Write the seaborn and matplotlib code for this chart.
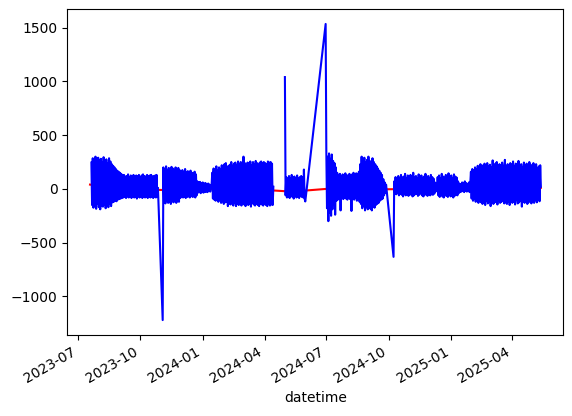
import pandas as pd
import matplotlib.pyplot as plt
import seaborn as sns

# blue series: daily highs/lows, one value per day per block
seg_a_start = '2023-07-21'
seg_a = [245, -150, 285, -175, 270, -160, 300, -185, 255, -140,
         290, -170, 265, -190, 280, -155, 250, -165, 295, -145,
         260, -180, 275, -150, 240, -170, 285, -135, 255, -160,
         230, -125,
         215, -120, 200, -110, 185, -115, 170, -100, 160, -95, 150, -90, 140, -85,
         125, -80, 130, -75, 115, -85, 120, -70, 135, -80,
         110, -75, 125, -85, 120, -70, 130, -80, 115, -75,
         125, -90, 120, -70, 130, -80, 110, -75, 125, -85,
         135, -70, 120, -80, 115, -75, 130, -85, 120, -70,
         125, -80, 130, -75, 115, -85, 120, -70, 125, -80,
         130, -75, 10]
dip_nov = ('2023-11-03', -1220)
seg_b_start = '2023-11-04'
seg_b = [200, -125, 185, -135, 210, -110, 175, -130, 195, -120,
         180, -140, 205, -115, 190, -125, 170, -105, 200, -130,
         185, -115, 195, -120, 175,
         -85, 160, -75, 175, -80, 150, -70, 185, -85, 155,
         -75, 165, -70, 140, -80, 170, -65, 150, -75, 145,
         -70, 160, -80, 135, -60,
         70, -35, 60, -30, 65, -40, 55, -25, 60, -35,
         50, -30, 55, -25, 45, -30, 50, -20, 40, -25, 30]
seg_c_start = '2024-01-14'
seg_c = [30, 150, -90, 190, -100, 160, -110, 210, -95, 175,
         -120, 200, -105, 185, -130, 220, -115, 195, -140, 230,
         -125, 240, -120, 205, -160, 215, -135, 225, -145, 250,
         -120, 215, -155, 235, -130, 245, -160, 220, -140, 255,
         -150, 230, -135, 250, -155, 240, -130, 300, -145, 240,
         -160, 210, -125, 245, -150, 235, -140, 255, -165, 220,
         -130, 250, -145, 230, -155, 260, -135, 240, -150, 225,
         -160, 245, -140, 255, -145, 235, -155, 250, -135, 240,
         -150, 230, -160, 255, -140, 245, -155, 250, -145, 235,
         -150, 20]
seg_d_start = '2024-05-01'
seg_d = [1040, -60, 110, -80, 95, -70, 120, -85, 100, -65,
         130, -75, 105, -90, 115, -60, 100, -80, 125, -70,
         95, -85, 110, -65, 120, -75, 105, -80, 180, -90, -117]
peak_jun = ('2024-06-30', 1534)
seg_e_start = '2024-07-01'
seg_e = [350, -180, 300, -300, 330, -220, 280, -250, 320, -190,
         260, -150, 240, -240, 200,
         -110, 150, -100, 130, -90, 140, -200, 120, -85, 135,
         -95, 125, -80, 145, -90, 130, -100, 120, -85, 140,
         -95, 125, -205, 135, -90, 150, -100, 130, -85, 145,
         -110, 140, -95, 160, -120,
         230, -140, 300, -180, 280, -160, 290, -200, 250, -170,
         270, -190, 300, -150, 260, -185, 240, -200, 285, -165,
         250, -175, 230, -150, 210, -140, 190, -130, 170, -110,
         150, -100, 130, -90,
         90, -60, 60, -40, 40]
dip_oct = ('2024-10-08', -632)
seg_f_start = '2024-10-09'
seg_f = [70, -30, 110, -50, 95, -40, 120, -60, 100, -45,
         130, -55, 105, -70, 115, -50, 140, -60, 100, -45,
         125, -65, 95, -50, 130, -55, 110, -70, 150, -60,
         105, -50, 120, -45, 100, -65, 135, -55, 110, -40,
         125, -60, 95, -70, 115, -50, 140, -55, 105, -65,
         120, -45, 100, -60, 130, -50, 110, -55, 95, -45,
         60, -25, 50, -20,
         110, -60, 125, -75, 100, -55, 140, -70, 115, -80,
         105, -60, 130, -65, 120, -75, 145, -55, 110, -70,
         125, -60, 100, -80, 135, -65, 115, -55, 105, -60,
         70, -40, 50, -30, 45,
         -25, 60, -20, 50, -30, 70, -15, 55, -25, 45, -20, 60, -30, 50,
         160, -90, 185, -110, 170, -95, 200, -120, 180, -100,
         215, -130, 190, -105, 230, -125, 205, -140, 220, -115,
         235, -150, 195, -110, 240, -135, 210, -120, 225, -160,
         200, -105, 265, -140, 215, -125, 235, -115, 250, -145,
         205, -110, 230, -130, 220, -120, 245, -105, 215, -135,
         270, -125, 210, -140, 230, -115, 200, -150, 240, -110,
         225, -130, 255, -120, 210, -145, 235, -105, 220, -135,
         260, -125, 215, -110, 230, -165, 205, -120, 245, -130,
         220, -115, 235, -140, 210, -125, 250, -110, 225, -135,
         200, -120, 240, -130, 215, -105, 230, -125, 190, -100,
         210, -115, 220, 20]

# red trend line
trend_dates = ['2023-07-19', '2023-08-15', '2023-10-01', '2023-11-01', '2024-01-01',
               '2024-03-01', '2024-04-15', '2024-05-10', '2024-06-01', '2024-07-01',
               '2024-09-01', '2024-10-05', '2025-01-01', '2025-05-13']
trend_vals = [40, 10, -5, -10, 0, -5, -15, -25, -15, 0, -5, -3, 5, 10]


def block(start, vals):
    return pd.DataFrame({'datetime': pd.date_range(start, periods=len(vals), freq='D'),
                         'value': vals})


def point(p):
    return pd.DataFrame({'datetime': [pd.Timestamp(p[0])], 'value': [p[1]]})


part1 = pd.concat([block(seg_a_start, seg_a), point(dip_nov),
                   block(seg_b_start, seg_b), block(seg_c_start, seg_c)], ignore_index=True)
part2 = pd.concat([block(seg_d_start, seg_d), point(peak_jun), block(seg_e_start, seg_e),
                   point(dip_oct), block(seg_f_start, seg_f)], ignore_index=True)
trend = pd.DataFrame({'datetime': pd.to_datetime(trend_dates), 'value': trend_vals})

fig, ax = plt.subplots(figsize=(5.72, 4.16), dpi=100)
sns.lineplot(data=trend, x='datetime', y='value', color='red', estimator=None, ax=ax)
sns.lineplot(data=part1, x='datetime', y='value', color='blue', estimator=None, ax=ax)
sns.lineplot(data=part2, x='datetime', y='value', color='blue', estimator=None, ax=ax)
ax.set_ylabel('')
plt.setp(ax.get_xticklabels(), rotation=30, ha='right')
fig.subplots_adjust(left=0.118, right=0.985, top=0.978, bottom=0.195)
plt.savefig('out.png', dpi=100)
